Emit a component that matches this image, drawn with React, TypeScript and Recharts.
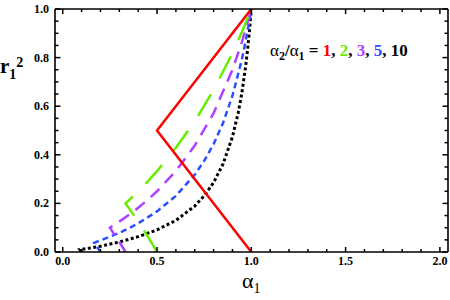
import React from 'react';
import { LineChart, Line, XAxis, YAxis } from 'recharts';

// alpha2/alpha1 ratios and their colours
const ratios = [1, 2, 3, 5, 10];
const ratioColors = ['#ff0000', '#66ee00', '#b040ff', '#2a50ff', '#000000'];

// r1^2 vs alpha1 for each ratio (lower branch, corner, upper branch)
const curve1 = [
  { x: 1, y: 0 }, { x: 0.5, y: 0.5 }, { x: 1, y: 1 },
];
const curve2 = [
  { x: 0.5, y: 0 }, { x: 0.45, y: 0.065 }, { x: 0.4, y: 0.125 }, { x: 0.367, y: 0.163 }, { x: 0.333, y: 0.2 },
  { x: 0.35, y: 0.212 }, { x: 0.4, y: 0.25 }, { x: 0.45, y: 0.29 }, { x: 0.5, y: 0.333 }, { x: 0.6, y: 0.429 },
  { x: 0.7, y: 0.538 }, { x: 0.8, y: 0.667 }, { x: 0.9, y: 0.818 }, { x: 0.95, y: 0.905 }, { x: 1, y: 1 },
];
const curve3 = [
  { x: 0.333, y: 0 }, { x: 0.3, y: 0.042 }, { x: 0.275, y: 0.071 }, { x: 0.25, y: 0.1 },
  { x: 0.3, y: 0.125 }, { x: 0.35, y: 0.152 }, { x: 0.4, y: 0.182 }, { x: 0.45, y: 0.214 }, { x: 0.5, y: 0.25 },
  { x: 0.6, y: 0.333 }, { x: 0.7, y: 0.438 }, { x: 0.8, y: 0.571 }, { x: 0.9, y: 0.75 }, { x: 0.95, y: 0.864 }, { x: 1, y: 1 },
];
const curve5 = [
  { x: 0.2, y: 0 }, { x: 0.183, y: 0.02 }, { x: 0.167, y: 0.038 },
  { x: 0.2, y: 0.048 }, { x: 0.25, y: 0.063 }, { x: 0.3, y: 0.079 }, { x: 0.35, y: 0.097 }, { x: 0.4, y: 0.118 },
  { x: 0.5, y: 0.167 }, { x: 0.6, y: 0.231 }, { x: 0.7, y: 0.318 }, { x: 0.75, y: 0.375 }, { x: 0.8, y: 0.444 },
  { x: 0.85, y: 0.531 }, { x: 0.9, y: 0.643 }, { x: 0.95, y: 0.792 }, { x: 0.98, y: 0.907 }, { x: 1, y: 1 },
];
const curve10 = [
  { x: 0.1, y: 0 }, { x: 0.091, y: 0.01 },
  { x: 0.1, y: 0.011 }, { x: 0.15, y: 0.017 }, { x: 0.2, y: 0.024 }, { x: 0.3, y: 0.041 }, { x: 0.4, y: 0.063 },
  { x: 0.5, y: 0.091 }, { x: 0.6, y: 0.13 }, { x: 0.7, y: 0.189 }, { x: 0.75, y: 0.231 }, { x: 0.8, y: 0.286 },
  { x: 0.85, y: 0.362 }, { x: 0.9, y: 0.474 }, { x: 0.93, y: 0.571 }, { x: 0.95, y: 0.655 }, { x: 0.97, y: 0.764 },
  { x: 0.98, y: 0.831 }, { x: 0.99, y: 0.908 }, { x: 1, y: 1 },
];

const xTicks = [0, 0.1, 0.2, 0.3, 0.4, 0.5, 0.6, 0.7, 0.8, 0.9, 1, 1.1, 1.2, 1.3, 1.4, 1.5, 1.6, 1.7, 1.8, 1.9, 2];
const yTicks = [0, 0.05, 0.1, 0.15, 0.2, 0.25, 0.3, 0.35, 0.4, 0.45, 0.5, 0.55, 0.6, 0.65, 0.7, 0.75, 0.8, 0.85, 0.9, 0.95, 1];

const serif = '"Liberation Serif", "DejaVu Serif", serif';
const isMajorX = (v: number) => Math.round(v * 10) % 5 === 0;
const isMajorY = (v: number) => Math.round(v * 20) % 4 === 0;
const tickStroke = { stroke: '#000', strokeWidth: 1.5 };

const BottomTick = ({ x, y, payload }: any) => {
  const major = isMajorX(payload.value);
  return (
    <g>
      <line x1={x} x2={x} y1={y} y2={y - (major ? 5 : 3)} {...tickStroke} />
      {major && (
        <text x={x} y={y + 13} textAnchor="middle" fontFamily={serif} fontWeight="bold" fontSize={12} fill="#000">
          {payload.value.toFixed(1)}
        </text>
      )}
    </g>
  );
};

const TopTick = ({ x, y, payload }: any) => {
  const major = isMajorX(payload.value);
  return <line x1={x} x2={x} y1={y} y2={y + (major ? 5 : 3)} {...tickStroke} />;
};

const LeftTick = ({ x, y, payload }: any) => {
  const major = isMajorY(payload.value);
  return (
    <g>
      <line x1={x} x2={x + (major ? 5.5 : 3.5)} y1={y} y2={y} {...tickStroke} />
      {major && (
        <text x={x - 6} y={y + 4} textAnchor="end" fontFamily={serif} fontWeight="bold" fontSize={12} fill="#000">
          {payload.value.toFixed(1)}
        </text>
      )}
    </g>
  );
};

const RightTick = ({ x, y, payload }: any) => {
  const major = isMajorY(payload.value);
  return <line x1={x} x2={x - (major ? 5.5 : 3.5)} y1={y} y2={y} {...tickStroke} />;
};

const frame = { stroke: '#000', strokeWidth: 1.6 };
const xDomain = [-0.041, 2.043];

export default function App() {
  return (
    <div style={{ position: 'absolute', left: 0, top: 0, width: 450, height: 300, background: '#fff' }}>
      <LineChart width={450} height={300} margin={{ top: 8, right: 1, left: 0, bottom: 0 }}>
        <XAxis
          dataKey="x" type="number" domain={xDomain} allowDataOverflow ticks={xTicks} interval={0}
          height={48} tickSize={0} tickMargin={0} tickLine={false} axisLine={frame} tick={<BottomTick />}
        />
        <XAxis
          xAxisId="top" orientation="top" dataKey="x" type="number" domain={xDomain} allowDataOverflow
          ticks={xTicks} interval={0} height={1} tickSize={0} tickMargin={0} tickLine={false} axisLine={frame}
          tick={<TopTick />}
        />
        <YAxis
          type="number" domain={[0, 1]} allowDataOverflow ticks={yTicks} interval={0} width={55}
          tickSize={0} tickMargin={0} tickLine={false} axisLine={frame} tick={<LeftTick />}
        />
        <YAxis
          yAxisId="right" orientation="right" type="number" domain={[0, 1]} allowDataOverflow ticks={yTicks}
          interval={0} width={1} tickSize={0} tickMargin={0} tickLine={false} axisLine={frame} tick={<RightTick />}
        />
        {/* invisible twin so the top/right frame axes get drawn */}
        <Line data={curve1} dataKey="y" xAxisId="top" yAxisId="right" stroke="none" dot={false} activeDot={false} isAnimationActive={false} />

        <Line data={curve10} dataKey="y" stroke={ratioColors[4]} strokeWidth={3} strokeDasharray="3 2.5" dot={false} isAnimationActive={false} />
        <Line data={curve5} dataKey="y" stroke={ratioColors[3]} strokeWidth={2.5} strokeDasharray="6 4" dot={false} isAnimationActive={false} />
        <Line data={curve3} dataKey="y" stroke={ratioColors[2]} strokeWidth={2.5} strokeDasharray="12 8" dot={false} isAnimationActive={false} />
        <Line data={curve2} dataKey="y" stroke={ratioColors[1]} strokeWidth={2.5} strokeDasharray="25 18" dot={false} isAnimationActive={false} />
        <Line data={curve1} dataKey="y" stroke={ratioColors[0]} strokeWidth={2.5} dot={false} isAnimationActive={false} />

        <text x={270} y={56} fontFamily={serif} fontSize={17} fontWeight="bold" fill="#000">
          <tspan fontWeight="normal">α</tspan>
          <tspan fontSize={12} dy={4}>2</tspan>
          <tspan dy={-4}>/</tspan>
          <tspan fontWeight="normal">α</tspan>
          <tspan fontSize={12} dy={4}>1</tspan>
          <tspan dy={-4}>{' = '}</tspan>
          {ratios.map((r, i) => (
            <tspan key={r}>
              <tspan fill={ratioColors[i]}>{r}</tspan>
              {i < ratios.length - 1 ? ', ' : ''}
            </tspan>
          ))}
        </text>

        <text x={0} y={73} fontFamily={serif} fontSize={21} fontWeight="bold" fill="#000">
          r<tspan fontSize={14} dy={6}>1</tspan>
          <tspan fontSize={14} dy={-12}>2</tspan>
        </text>

        <text x={242} y={288} fontFamily={serif} fontSize={22} fill="#000">
          α<tspan fontSize={14} dy={5}>1</tspan>
        </text>
      </LineChart>
    </div>
  );
}
